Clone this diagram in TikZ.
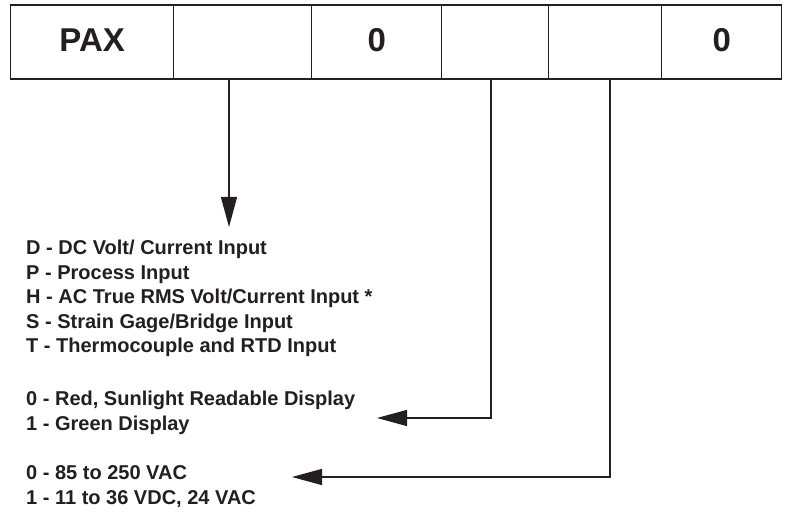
\documentclass[tikz,border=0pt]{standalone}
\usepackage{fontspec}
\setmainfont{Liberation Sans}
\usetikzlibrary{arrows.meta}
\definecolor{ink}{HTML}{231F20}
\begin{document}
\begin{tikzpicture}[x=1pt,y=-1pt,
  cell/.style={draw=ink, line width=1.4pt, minimum height=74pt, inner sep=0pt, anchor=north west,
    text depth=4pt, font=\fontsize{33}{33}\selectfont\bfseries, text=ink},
  item/.style={anchor=base west, inner sep=0pt, font=\fontsize{20}{24}\selectfont\bfseries, text=ink},
  lead/.style={draw=ink, line width=1.2pt, -{Triangle[length=30pt,width=16pt]}}]
\useasboundingbox (0,0) rectangle (785,518);
\fill[white] (0,0) rectangle (785,518);
% header cells
\node[cell, minimum width=163pt] (c1) at (10,4.5) {PAX};
\node[cell, minimum width=138pt] (c2) at (173,4.5) {};
\node[cell, minimum width=130pt] (c3) at (311,4.5) {0};
\node[cell, minimum width=107pt] (c4) at (441,4.5) {};
\node[cell, minimum width=113pt] (c5) at (548,4.5) {};
\node[cell, minimum width=120pt] (c6) at (661,4.5) {0};
% option lists
\node[item] (d) at (26,255) {D - DC Volt/ Current Input};
\node[item] (p) at (26,279.5) {P - Process Input};
\node[item] (h) at (26,304) {H - AC True RMS Volt/Current Input *};
\node[item] (s) at (26,328.5) {S - Strain Gage/Bridge Input};
\node[item] (t) at (26,353) {T - Thermocouple and RTD Input};
\node[item] (r) at (26,406) {0 - Red, Sunlight Readable Display};
\node[item] (g) at (26,430.5) {1 - Green Display};
\node[item] (v1) at (26,480) {0 - 85 to 250 VAC};
\node[item] (v2) at (26,504) {1 - 11 to 36 VDC, 24 VAC};
% leaders
\coordinate (e1) at (229,227);
\coordinate (k2) at (491,418);
\coordinate (e2) at (377,418);
\coordinate (k3) at (610,477);
\coordinate (e3) at (292,477);
\draw[lead] (c2.south -| e1) -- (e1);
\draw[lead] (c4.south -| k2) -- (k2) -- (e2);
\draw[lead] (c5.south -| k3) -- (k3) -- (e3);
\end{tikzpicture}
\end{document}
